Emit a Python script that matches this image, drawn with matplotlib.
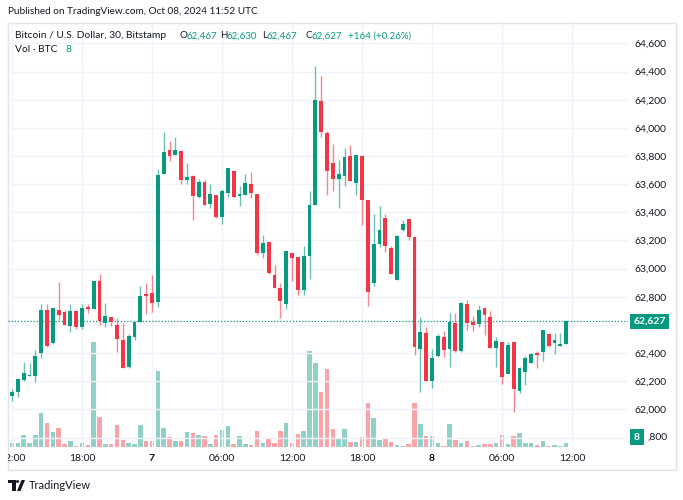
import matplotlib
matplotlib.use("Agg")
import matplotlib.pyplot as plt
from matplotlib.patches import Rectangle, Polygon, Circle
from matplotlib.transforms import blended_transform_factory, Bbox, TransformedBbox
import numpy as np

plt.rcParams['font.family'] = ['Lato', 'DejaVu Sans']

##Candle data, 30 minute bars from Oct 6 12:00 to Oct 8 11:30 UTC
opens = [62095, 62121, 62208, 62240, 62239, 62402, 62709, 62473, 62705, 62693,
         62591, 62700, 62582, 62730, 62712, 62910, 62617, 62657, 62598, 62492,
         62299, 62516, 62618, 62818, 62828, 62762, 63674, 63844, 63804, 63839,
         63627, 63657, 63508, 63617, 63456, 63520, 63367, 63539, 63693, 63515,
         63525, 63603, 63532, 63114, 63189, 62958, 62865, 62747, 63111, 63083,
         62847, 63088, 63454, 64193, 63964, 63752, 63638, 63657, 63797, 63608,
         63797, 63489, 62899, 63173, 63362, 63147, 62920, 63272, 63355, 63225,
         62426, 62544, 62204, 62379, 62511, 62426, 62615, 62417, 62747, 62622,
         62605, 62721, 62657, 62433, 62480, 62251, 62480, 62132, 62265, 62331,
         62404, 62409, 62534, 62473, 62451, 62467]
highs = [62144, 62220, 62338, 62331, 62421, 62752, 62747, 62723, 62903, 62709,
         62747, 62705, 62752, 62752, 62910, 62960, 62759, 62657, 62646, 62615,
         62535, 62622, 62875, 62899, 62953, 63709, 63969, 63910, 63934, 63839,
         63752, 63667, 63638, 63627, 63603, 63520, 63567, 63716, 63704, 63584,
         63669, 63685, 63532, 63236, 63189, 63024, 62898, 63126, 63111, 63083,
         63159, 63548, 64442, 64366, 63981, 63886, 63775, 63856, 63875, 63804,
         63804, 63489, 63390, 63442, 63390, 63159, 63241, 63343, 63355, 63235,
         62658, 62582, 62426, 62535, 62558, 62686, 62686, 62760, 62780, 62662,
         62744, 62728, 62697, 62511, 62480, 62480, 62480, 62303, 62378, 62402,
         62416, 62567, 62546, 62546, 62546, 62630]
lows = [62062, 62090, 62205, 62237, 62196, 62364, 62440, 62468, 62634, 62598,
        62551, 62574, 62574, 62686, 62712, 62598, 62586, 62591, 62409, 62292,
        62292, 62492, 62618, 62681, 62693, 62724, 63674, 63768, 63804, 63598,
        63603, 63348, 63504, 63449, 63433, 63362, 63315, 63508, 63508, 63444,
        63525, 63503, 63095, 63078, 62965, 62863, 62646, 62714, 62910, 62816,
        62816, 62929, 63454, 63938, 63525, 63551, 63430, 63584, 63619, 63520,
        63307, 62733, 62875, 63154, 63118, 62965, 62920, 63267, 63201, 62386,
        62126, 62204, 62150, 62374, 62374, 62298, 62410, 62410, 62563, 62558,
        62586, 62532, 62433, 62298, 62184, 62251, 61984, 62118, 62173, 62331,
        62296, 62345, 62444, 62392, 62451, 62467]
closes = [62121, 62213, 62260, 62242, 62378, 62709, 62449, 62719, 62671, 62598,
          62700, 62582, 62723, 62714, 62910, 62626, 62664, 62622, 62497, 62292,
          62521, 62622, 62804, 62809, 62757, 63662, 63832, 63797, 63846, 63627,
          63650, 63513, 63617, 63454, 63527, 63367, 63551, 63716, 63508, 63531,
          63607, 63539, 63114, 63184, 62972, 62863, 62769, 63126, 63078, 62847,
          63090, 63454, 64198, 63974, 63692, 63638, 63674, 63792, 63619, 63804,
          63485, 62835, 63173, 63277, 63159, 62965, 63229, 63319, 63225, 62440,
          62551, 62204, 62362, 62521, 62421, 62622, 62417, 62757, 62617, 62598,
          62709, 62669, 62433, 62487, 62227, 62458, 62144, 62291, 62362, 62392,
          62390, 62567, 62454, 62492, 62463, 62627]
volumes = [8, 8, 25, 8, 25, 74, 52, 32, 41, 6,
           12, 3, 8, 4, 228, 65, 6, 6, 47, 15,
           8, 6, 48, 13, 13, 164, 41, 22, 13, 13,
           32, 30, 27, 24, 6, 27, 37, 45, 6, 24,
           6, 4, 35, 8, 17, 8, 35, 52, 8, 28,
           34, 207, 182, 119, 168, 40, 19, 38, 11, 11,
           22, 96, 63, 15, 18, 11, 4, 3, 6, 96,
           50, 24, 24, 8, 3, 50, 16, 8, 12, 3,
           4, 6, 6, 8, 25, 6, 23, 30, 8, 8,
           4, 14, 3, 4, 3, 8]

time_ticks = [0, 12, 24, 36, 48, 60, 72, 84, 96]
time_labels = ["12:00", "18:00", "7", "06:00", "12:00", "18:00", "8", "06:00", "12:00"]
price_ticks = [61800, 62000, 62200, 62400, 62600, 62800, 63000, 63200,
               63400, 63600, 63800, 64000, 64200, 64400, 64600]
last_price = 62627
last_change = "+164 (+0.26%)"
last_volume = 8

GREEN = "#089981"
RED = "#F23645"
TEXT = "#131722"
GRID = "#f0f3fa"

W, H = 683, 500
fig = plt.figure(figsize=(W / 100, H / 100), dpi=100)
fig.patch.set_facecolor("white")

def fx(x):
    return x / W

def fy(y):
    return 1 - y / H

##Main pane, volume overlay underneath
ax = fig.add_axes([fx(8), fy(447), fx(628) - fx(8), fy(22.7) - fy(447)])
ax2 = ax.twinx()
ax.set_zorder(ax2.get_zorder() + 1)
ax.patch.set_visible(False)

x = np.arange(len(closes))
colors = [GREEN if c >= o else RED for o, c in zip(opens, closes)]
bottoms = [min(o, c) for o, c in zip(opens, closes)]
heights = [max(abs(c - o), 8) for o, c in zip(opens, closes)]

ax.vlines(x, lows, highs, colors=colors, lw=1, alpha=0.6, zorder=3)
ax.bar(x, heights, bottom=bottoms, width=0.68, color=colors, lw=0, zorder=4)

ax2.bar(x, volumes, width=0.78, color=colors, alpha=0.45, lw=0)
ax2.set_ylim(0, 918)
ax2.axis("off")

ax.set_xlim(-0.686, 105.6)
ax.set_ylim(61733, 64747)
for s in ax.spines.values():
    s.set_visible(False)

##Price labels, the ones under the last price / volume boxes are hidden
hidden = {62600, 61800}
ax.set_yticks(price_ticks)
ax.set_yticklabels(["" if p in hidden else f"{p:,}" for p in price_ticks])
ax.yaxis.tick_right()
ax.tick_params(axis="y", length=0, pad=5, labelsize=7.5, labelcolor=TEXT)
ax.set_xticks(time_ticks)
ax.set_xticklabels(time_labels)
ax.tick_params(axis="x", length=0, pad=5, labelsize=7.5, labelcolor=TEXT)
ax.grid(True, color=GRID, lw=1, zorder=0)
ax.set_axisbelow(True)

clip = TransformedBbox(Bbox([[fx(8), 0], [1, 1]]), fig.transFigure)
for lbl in ax.get_xticklabels():
    if lbl.get_text() in ("7", "8"):
        lbl.set_fontweight("bold")
    lbl.set_clip_box(clip)
    lbl.set_clip_on(True)

##Last price line and labels
ax.axhline(last_price, color=GREEN, ls=(0, (1, 1.5)), lw=0.9, zorder=2)
trans = blended_transform_factory(fig.transFigure, ax.transData)
ax.text(fx(649.5), last_price, f"{last_price:,}", transform=trans, ha="center", va="center",
        color="white", fontsize=7.5, fontweight="bold", clip_on=False, zorder=10,
        bbox=dict(boxstyle="square,pad=0.3", fc=GREEN, ec="none"))
fig.text(fx(637), fy(437), str(last_volume), ha="center", va="center", color="white",
         fontsize=7.5, fontweight="bold", zorder=10,
         bbox=dict(boxstyle="square,pad=0.35", fc=GREEN, ec="none"))
# the 61,800 label is mostly covered by the volume box, only ",800" shows
ax.text(fx(667.5), 61800, f"{61800:,}"[2:], transform=trans, ha="right", va="center",
        color=TEXT, fontsize=7.5, clip_on=False)

##Frame
fig.add_artist(Rectangle((fx(8), fy(470)), fx(676) - fx(8), fy(22.7) - fy(470),
                         transform=fig.transFigure, fill=False, ec="#e0e3eb", lw=1))

##Header texts
fig.text(fx(8), fy(12), "Published on TradingView.com, Oct 08, 2024 11:52 UTC",
         fontsize=7.2, color=TEXT, va="center")

##Legend line: title, then OHLC groups starting where the reference has them
fs = 7.4
vfs = 7.0
fig.text(fx(15), fy(36), "Bitcoin / U.S. Dollar, 30, Bitstamp", fontsize=fs, color=TEXT,
         va="center")
renderer = fig.canvas.get_renderer()
groups = [(179, "O", opens[-1]), (220, "H", highs[-1]), (262, "L", lows[-1]),
          (305, "C", closes[-1])]
for gx, letter, val in groups:
    t = fig.text(fx(gx), fy(36), letter, fontsize=vfs, color=TEXT, va="center")
    w = t.get_window_extent(renderer).width
    fig.text(fx(gx + w - 0.5), fy(36), f"{val:,}", fontsize=vfs, color=GREEN, va="center")
fig.text(fx(348), fy(36), last_change, fontsize=vfs, color=GREEN, va="center")
fig.text(fx(15), fy(50), "Vol · BTC", fontsize=fs, color=TEXT, va="center")
fig.text(fx(66), fy(50), str(last_volume), fontsize=fs, color=GREEN, va="center")

##TradingView logo at the bottom
fig.add_artist(Rectangle((fx(8), fy(483)), fx(7), 3 / H, transform=fig.transFigure,
                         fc=TEXT, ec="none"))
fig.add_artist(Rectangle((fx(12), fy(491)), fx(3.5), 11 / H, transform=fig.transFigure,
                         fc=TEXT, ec="none"))
fig.add_artist(Circle((fx(17.5), fy(481.5)), 1.8 / W, transform=fig.transFigure,
                      fc=TEXT, ec="none"))
fig.add_artist(Polygon([(fx(17), fy(491)), (fx(21.5), fy(480)), (fx(25), fy(480)),
                        (fx(20.5), fy(491))], closed=True, transform=fig.transFigure,
                       fc=TEXT, ec="none"))
fig.text(fx(29), fy(485.5), "TradingView", fontsize=8, color=TEXT, va="center")

fig.savefig("out.png", dpi=100)
